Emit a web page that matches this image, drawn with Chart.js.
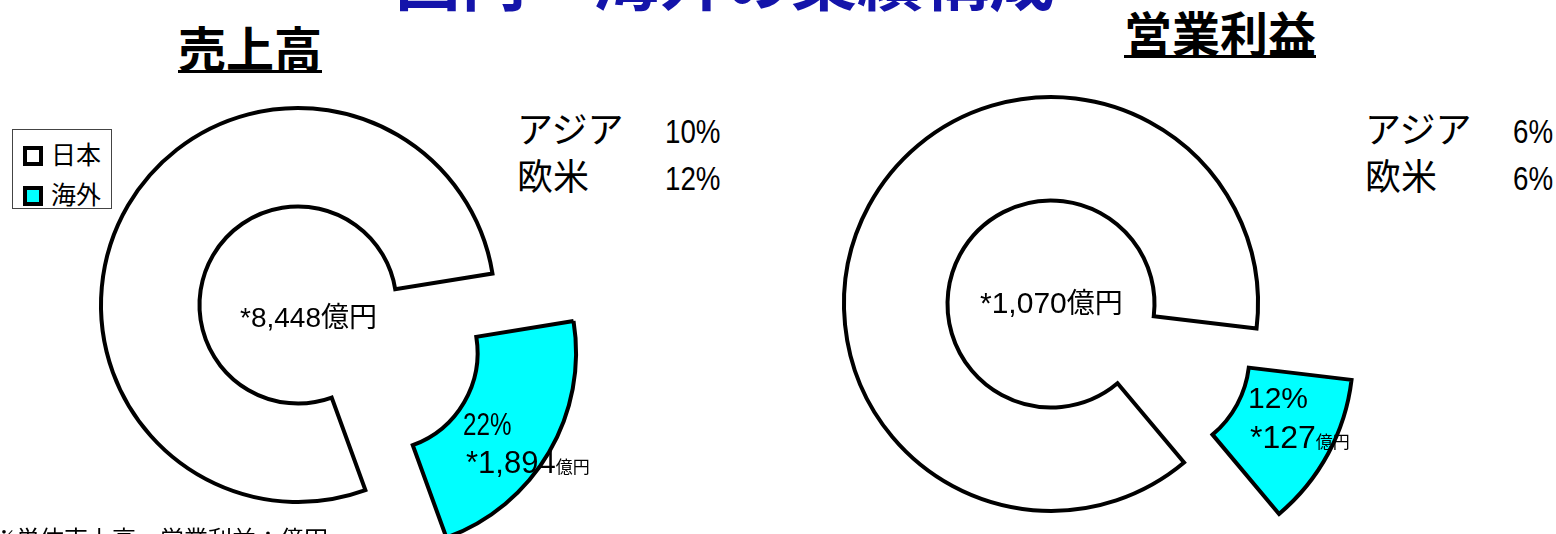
<!DOCTYPE html>
<html lang="ja">
<head>
<meta charset="utf-8">
<script src="https://cdn.jsdelivr.net/npm/chart.js@4.4.0/dist/chart.umd.min.js"></script>
<style>
    html, body {
        margin: 0;
        padding: 0;
        width: 1556px;
        height: 534px;
        overflow: hidden;
        background: #ffffff;
    }
    body {
        position: relative;
        font-family: "Noto Sans CJK JP", sans-serif;
        color: #000;
    }
    canvas {
        position: absolute;
    }
    .txt {
        position: absolute;
        white-space: nowrap;
        line-height: 1;
    }
    .num {
        font-family: "Liberation Sans", Arial, sans-serif;
    }
    .narrow {
        display: inline-block;
        transform-origin: left bottom;
    }
    .title {
        font-weight: bold;
        border-bottom: 3px solid #000;
    }
    .legend {
        position: absolute;
        left: 12px;
        top: 129px;
        width: 98px;
        height: 78px;
        border: 1px solid #444;
        background: #fff;
    }
    .legend-item {
        position: absolute;
        left: 10px;
        font-size: 25px;
        line-height: 25px;
    }
    .legend-item i {
        display: inline-block;
        box-sizing: border-box;
        width: 20px;
        height: 20px;
        border: 4px solid #000;
        vertical-align: -2px;
        margin-right: 8px;
    }
    .side {
        position: absolute;
        font-size: 36px;
        line-height: 43px;
        white-space: nowrap;
    }
</style>
</head>
<body>

<div class="txt" style="left:395px; top:-57px; font-size:66px; font-weight:bold; color:#1414aa;">国内・海外の業績構成</div>

<div class="txt title" style="left:178px; top:22px; font-size:48px;">売上高</div>
<div class="txt title" style="left:1124px; top:7px; font-size:48px;">営業利益</div>

<div class="legend" id="legend"></div>

<div class="side" id="salesSide" style="left:517px; top:106px;"></div>
<div class="side" id="profitSide" style="left:1365px; top:106px;"></div>

<canvas id="sales-chart" width="600" height="610" style="left:-2px; top:0px;"></canvas>
<canvas id="profit-chart" width="700" height="608" style="left:701px; top:0px;"></canvas>

<div class="txt" id="salesJapanLabel" style="left:240px; top:301px; font-size:28px;"></div>
<div class="txt" id="salesOverseasPct" style="left:463px; top:406px; font-size:31px;"></div>
<div class="txt" id="salesOverseasAmt" style="left:466px; top:443px; font-size:32px;"></div>

<div class="txt" id="profitJapanLabel" style="left:980px; top:285px; font-size:30px;"></div>
<div class="txt" id="profitOverseasPct" style="left:1248px; top:380px; font-size:30px;"></div>
<div class="txt" id="profitOverseasAmt" style="left:1250px; top:418px; font-size:32px;"></div>

<div class="txt" style="left:-8px; top:526px; font-size:24px;">※単体売上高、営業利益：億円</div>

<script>
// 地域区分
const regions = ["日本", "海外"];
const regionColors = ["#ffffff", "#00ffff"];

// 売上高（構成比％・億円）
const salesShare = [78, 22];
const salesAmount = ["8,448", "1,894"];

// 営業利益（構成比％・億円）
const profitShare = [88, 12];
const profitAmount = ["1,070", "127"];

// 海外の内訳
const overseasAreas = ["アジア", "欧米"];
const salesAreaShare = [10, 12];
const profitAreaShare = [6, 6];

// 切り離した扇形を中心から外へずらす
const explodePlugin = {
    id: "explode",
    beforeDatasetDraw(chart, args, opts) {
        const dist = opts.distance || [];
        args.meta.data.forEach((arc, i) => {
            const d = dist[i] || 0;
            const mid = (arc.startAngle + arc.endAngle) / 2;
            arc.$shift = [Math.cos(mid) * d, Math.sin(mid) * d];
            arc.x += arc.$shift[0];
            arc.y += arc.$shift[1];
        });
    },
    afterDatasetDraw(chart, args) {
        args.meta.data.forEach(arc => {
            if (arc.$shift) {
                arc.x -= arc.$shift[0];
                arc.y -= arc.$shift[1];
                arc.$shift = null;
            }
        });
    }
};

let initChart = (id, shares, radius, rotation, distance) => {
    const config = {
        type: "doughnut",
        data: {
            labels: regions,
            datasets: [
                {
                    data: shares,
                    backgroundColor: regionColors,
                    borderColor: "#000000",
                    borderWidth: 4,
                    borderJoinStyle: "miter",
                    clip: false
                }
            ]
        },
        options: {
            responsive: false,
            animation: false,
            radius: radius,
            cutout: "50%",
            rotation: rotation,
            layout: {
                padding: 0
            },
            plugins: {
                legend: { display: false },
                tooltip: { enabled: false },
                explode: { distance: distance }
            }
        },
        plugins: [explodePlugin]
    };

    return new Chart(id, config);
};

initChart("sales-chart", salesShare, 197, 160, [0, 94]);
initChart("profit-chart", profitShare, 207, 140, [0, 108]);

// 凡例
const legend = document.getElementById("legend");
regions.forEach((name, i) => {
    const item = document.createElement("div");
    item.className = "legend-item";
    item.style.top = (11 + i * 40) + "px";
    item.innerHTML = '<i style="background:' + regionColors[i] + '"></i>' + name;
    legend.appendChild(item);
});

// 海外内訳
let sideText = (el, shares) => {
    el.innerHTML = overseasAreas
        .map((name, i) =>
            '<div><span style="display:inline-block;width:148px">' + name +
            '</span><span class="num narrow" style="font-size:33px;transform:scaleX(0.84)">' +
            shares[i] + '%</span></div>')
        .join("");
};
sideText(document.getElementById("salesSide"), salesAreaShare);
sideText(document.getElementById("profitSide"), profitAreaShare);

// 扇形のラベル
let amountHtml = (amount, numSize, unitSize) =>
    '<span class="num" style="font-size:' + numSize + 'px">*' + amount + '</span>' +
    '<span style="font-size:' + unitSize + 'px">億円</span>';

let pctHtml = (value, squeeze) =>
    '<span class="num narrow" style="transform:scaleX(' + squeeze + ')">' + value + '%</span>';

document.getElementById("salesJapanLabel").innerHTML = amountHtml(salesAmount[0], 28, 28);
document.getElementById("salesOverseasPct").innerHTML = pctHtml(salesShare[1], 0.78);
document.getElementById("salesOverseasAmt").innerHTML = amountHtml(salesAmount[1], 31, 17);

document.getElementById("profitJapanLabel").innerHTML = amountHtml(profitAmount[0], 30, 28);
document.getElementById("profitOverseasPct").innerHTML = pctHtml(profitShare[1], 1);
document.getElementById("profitOverseasAmt").innerHTML = amountHtml(profitAmount[1], 32, 17);
</script>
</body>
</html>
